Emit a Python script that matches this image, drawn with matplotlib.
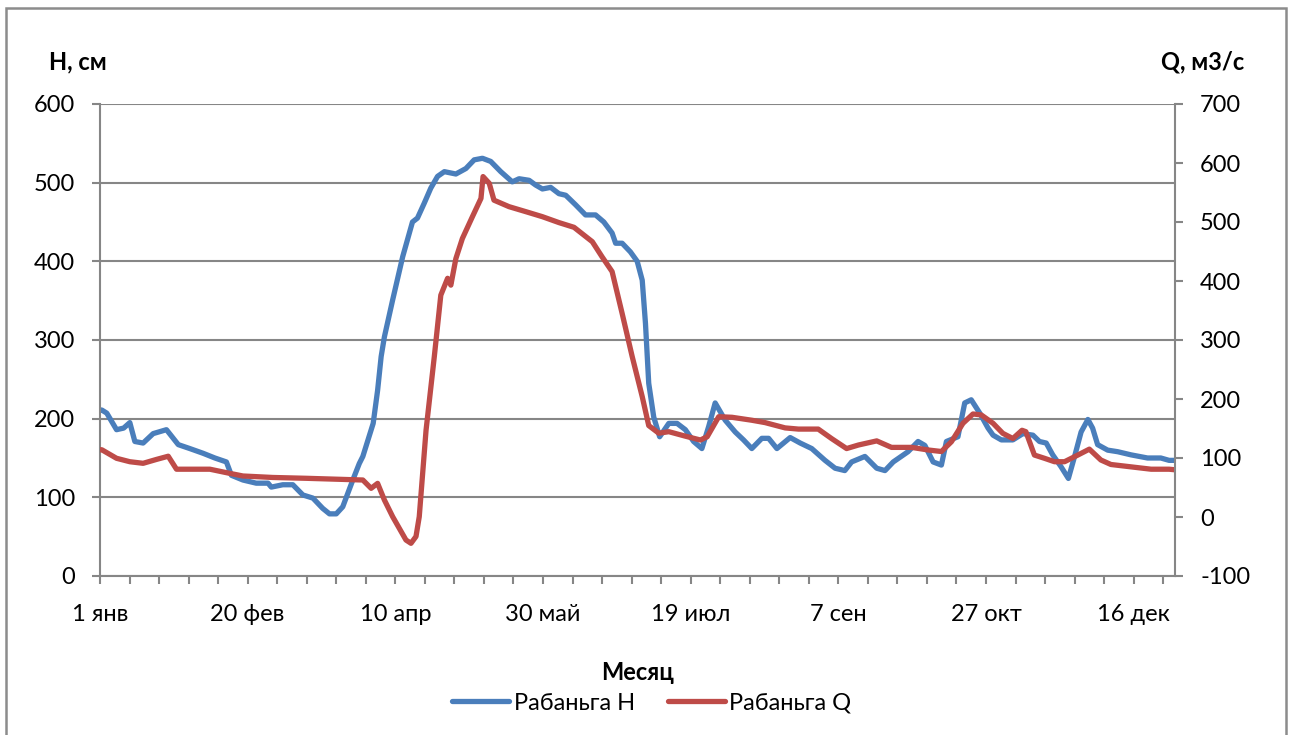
import matplotlib
matplotlib.use("Agg")
import matplotlib.pyplot as plt
from matplotlib.patches import Rectangle

plt.rcParams['font.family'] = ['Lato', 'DejaVu Sans']
plt.rcParams['axes.unicode_minus'] = False

# ---- data ----
h_days = [1, 1.6, 3.3, 6.6, 9, 11.1, 12.8, 15.6, 19, 23.5, 27.5, 31.4, 35.9, 39.9, 43.8, 45.5,
          49.4, 53.9, 57.9, 59, 62.9, 66.3, 69.7, 73.1, 76.4, 78.7, 81, 83.2, 86.6, 88.8, 90,
          93.5, 95, 96.2, 97.3, 100.1, 103.5, 106.8, 108.5, 110.8, 113, 115.3, 117.6, 121.5,
          124.9, 127.7, 130.5, 133.3, 136.7, 140.6, 142.9, 146.3, 148.5, 150.8, 153.6, 156.4,
          158.7, 162, 165.4, 168.8, 171.6, 174.4, 175.6, 177.8, 180.6, 182.9, 184.6, 185.7,
          186.8, 188.5, 190.5, 193.6, 196.4, 199.2, 202, 204.8, 207.1, 209.3, 212.7, 216.1,
          218.9, 221.7, 225.1, 227.4, 230.2, 234.7, 238.1, 242, 246.5, 249.9, 253.2, 255.5,
          260, 264, 266.8, 269.6, 274.6, 278, 280.3, 283.1, 285.9, 287.6, 291.5, 293.8, 296,
          298.9, 301.7, 303.4, 306.2, 310.1, 313.5, 316.9, 319.1, 321.4, 323.6, 326.4, 328.9,
          331, 333.2, 335.5, 337.1, 338.8, 342.2, 345.6, 350.1, 355.7, 360.2, 363, 365]
h_values = [211, 211, 207, 186, 188, 195, 171, 169, 181, 186, 167, 162, 156, 150, 145, 128,
            122, 118, 118, 113, 116, 116, 103, 99, 86, 79, 79, 88, 122, 143, 152,
            194, 236, 279, 304, 351, 406, 450, 455, 474, 493, 508, 514, 511,
            518, 529, 531, 527, 514, 501, 505, 503, 497, 492, 494, 486,
            484, 472, 459, 459, 450, 436, 423, 423, 412, 400, 376, 321,
            245, 202, 177, 194, 194, 186, 171, 162, 190, 220, 198, 183,
            173, 162, 175, 175, 162, 176, 169, 162, 147, 137, 134, 145,
            152, 137, 134, 145, 158, 171, 166, 145, 141, 171, 177, 220, 224,
            207, 188, 179, 173, 173, 181, 179, 171, 169, 154, 139, 124,
            152, 183, 199, 188, 167, 160, 158, 154, 150, 150, 147, 147]

q_days = [1, 1.6, 6.6, 11.1, 15.6, 20.2, 24.1, 26.9, 31.4, 38.2, 44.9, 49.4, 59.5, 70.8, 82.1,
          90, 92.8, 95, 97.3, 100.1, 104.6, 106.3, 108, 109.1, 111.4, 114.2, 116.4, 118.7,
          119.8, 121.5, 123.7, 127.1, 130, 130.7, 132.8, 134.4, 139.5, 145.2, 150.8, 156.4,
          161.5, 167.7, 171, 174.4, 177.8, 181.2, 184.6, 186.8, 190.2, 193.6, 199.2, 204.3,
          206.6, 210.5, 215, 221.7, 226.2, 233, 237.5, 244.2, 248.7, 253.8, 257.8, 264, 269,
          275.8, 281.4, 285.9, 289.3, 293.2, 296.6, 299.4, 303.4, 306.7, 310.1, 313.2, 314.5,
          317.4, 320.8, 324.2, 327.6, 332.1, 336, 339.9, 343.3, 350.1, 356.9, 363, 365]
q_values = [114, 114, 99.5, 93.7, 91, 97.7, 103, 81, 81, 81, 74, 69.5, 67, 65.6, 63.9,
            62.7, 48.6, 57, 28.8, 0.5, -39, -44.6, -33, 0.5, 147, 272, 376, 404.6,
            393, 438, 472, 509, 540, 577, 565.6, 537, 526, 517.5, 509, 499,
            491, 466.6, 441, 416, 345, 272, 204, 155, 142, 144.6, 137, 130.5,
            136, 170, 169, 164, 160, 151, 149, 149, 133, 116, 122, 129, 118,
            118, 113.6, 111, 127.6, 158.8, 174.6, 173, 158.8, 141.8, 133, 147, 144.6,
            105, 99.5, 93.7, 93.7, 105, 115, 96.6, 89, 85, 81, 81, 80]

x_tick_days = [1, 51, 101, 151, 201, 251, 301, 351]
x_tick_labels = ['1 янв', '20 фев', '10 апр', '30 май', '19 июл', '7 сен', '27 окт', '16 дек']
series_names = ['Рабаньга Н', 'Рабаньга Q']

# ---- figure ----
W, H = 1294, 735
fig = plt.figure(figsize=(W / 100, H / 100), dpi=100)
ax = fig.add_axes([100 / W, 1 - 576 / H, (1175 - 100) / W, (576 - 104) / H])
ax2 = ax.twinx()

blue = '#4A7EBB'
red = '#BE4B48'
gray = '#868686'
fs = 17

l1, = ax.plot(h_days, h_values, color=blue, lw=3.8, solid_joinstyle='round',
              solid_capstyle='round', label=series_names[0])
l2, = ax2.plot(q_days, q_values, color=red, lw=3.8, solid_joinstyle='round',
               solid_capstyle='round', label=series_names[1])

ax.set_xlim(1, 365)
ax.set_ylim(0, 600)
ax2.set_ylim(-100, 700)
ax.set_yticks(range(0, 601, 100))
ax2.set_yticks(range(-100, 701, 100))
ax.set_xticks(x_tick_days)
ax.set_xticklabels(x_tick_labels)
ax.set_xticks(range(1, 366, 10), minor=True)

ax.grid(axis='y', color=gray, lw=1.5)
ax.set_axisbelow(True)

for a in (ax, ax2):
    for s in a.spines.values():
        s.set_visible(False)
ax.spines['left'].set_visible(True)
ax.spines['bottom'].set_visible(True)
ax2.spines['right'].set_visible(True)
for s in (ax.spines['left'], ax.spines['bottom'], ax2.spines['right']):
    s.set_color(gray)
    s.set_linewidth(1.5)

ax.tick_params(axis='y', direction='out', length=6, width=1.5, color=gray,
               labelsize=fs, pad=12)
ax2.tick_params(axis='y', direction='out', length=6, width=1.5, color=gray,
                labelsize=fs, pad=12)
ax.tick_params(axis='x', which='both', direction='out', length=6, width=1.5,
               color=gray, labelsize=fs, pad=14)

fig.text(78 / W, 1 - 62 / H, 'Н, см', ha='center', va='center', fontsize=fs,
         fontweight='bold')
fig.text(1203 / W, 1 - 62 / H, 'Q, м3/с', ha='center', va='center', fontsize=fs,
         fontweight='bold')
fig.text(638 / W, 1 - 672 / H, 'Месяц', ha='center', va='center', fontsize=fs,
         fontweight='bold')

fig.legend(handles=[l1, l2], loc='center', bbox_to_anchor=(652 / W, 1 - 703 / H),
           ncol=2, frameon=False, fontsize=fs, handlelength=2.4, handletextpad=0.2,
           columnspacing=1.4, borderpad=0)

fig.patches.append(Rectangle((6 / W, -0.05), (1286 - 6) / W, 1.05 - 8 / H,
                             transform=fig.transFigure, fill=False,
                             edgecolor='#8c8c8c', lw=1.8))

fig.savefig('out.png', dpi=100)
